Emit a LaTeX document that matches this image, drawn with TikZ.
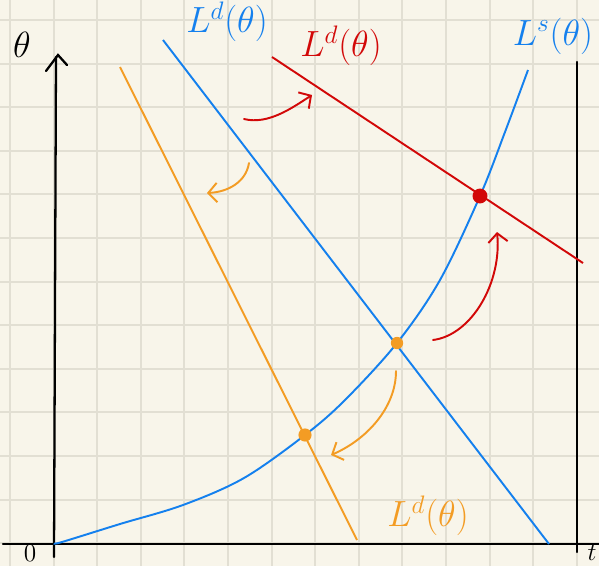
\documentclass[tikz,border=0pt]{standalone}
\usepackage{tikz}
\usetikzlibrary{arrows.meta}

\begin{document}
\begin{tikzpicture}[
    x=0.02cm, y=-0.02cm,
    axis/.style={black, line width=1.3pt, line cap=round},
    grid_line/.style={cgrid, line width=1.1pt},
    demand_line/.style={line width=1.1pt},
    supply_line/.style={cblue, line width=1.1pt},
    shift_arrow/.style={line width=1.1pt, line cap=round, -{Straight Barb[length=5pt, width=11pt]}},
    eq_dot/.style={circle, fill, inner sep=0pt, minimum size=7pt},
    curve_label/.style={font=\fontsize{21}{24}\selectfont, inner sep=0pt},
    axis_label/.style={font=\fontsize{15}{17}\selectfont, inner sep=0pt}
]

  % --- Color Definitions ---
  \definecolor{cpaper}{RGB}{248, 245, 234} % Paper
  \definecolor{cgrid}{RGB}{226, 223, 211}  % Grid
  \definecolor{cblue}{RGB}{20, 128, 238}   % Initial curves
  \definecolor{cred}{RGB}{210, 8, 8}       % Demand up
  \definecolor{corange}{RGB}{243, 156, 36} % Demand down

  % --- Paper and Grid ---
  \useasboundingbox (0,0) rectangle (599,566);
  \fill[cpaper] (0,0) rectangle (599,566);
  \foreach \k in {0,...,13} {
    \draw[grid_line] (10+43.6*\k, 0) -- (10+43.6*\k, 566);
    \draw[grid_line] (0, 20+43.6*\k) -- (599, 20+43.6*\k);
  }

  % --- Axes ---
  \coordinate (origin) at (54,557);
  \coordinate (yaxis_top) at (56,57);
  \coordinate (xaxis_left) at (3,544);
  \coordinate (xaxis_right) at (605,544);
  \coordinate (tbar_top) at (577,62);
  \coordinate (tbar_bot) at (577,552);
  \draw[axis] (origin) -- (yaxis_top);
  \draw[axis] (46,71) -- (58,55) -- (67,65);
  \draw[axis] (xaxis_left) -- (xaxis_right);
  \draw[axis] (tbar_top) -- (tbar_bot);
  \node[axis_label, font=\fontsize{22}{24}\selectfont] (theta_lbl) at (22,45) {$\theta$};
  \node[axis_label] (zero_lbl) at (30,553) {$0$};
  \node[axis_label] (t_lbl) at (592,553) {$t$};

  % --- Initial demand and supply ---
  \coordinate (bd_top) at (163,40);
  \coordinate (bd_bot) at (549,544);
  \draw[demand_line, cblue] (bd_top) -- (bd_bot);
  \draw[supply_line] plot[smooth, tension=0.55] coordinates {
    (55,543) (62,542) (120,524) (183,505) (244,478) (305,435)
    (345,400) (397,343) (440,280) (480,196) (505,132) (528,70)};
  \node[curve_label, cblue] (bd_lbl) at (227,22) {$L^{d}(\theta)$};
  \node[curve_label, cblue] (ls_lbl) at (553,36) {$L^{s}(\theta)$};

  % --- Demand up (red) ---
  \coordinate (rd_top) at (272,57);
  \coordinate (rd_bot) at (583,263);
  \draw[demand_line, cred] (rd_top) -- (rd_bot);
  \node[curve_label, cred] (rd_lbl) at (341,46) {$L^{d}(\theta)$};

  % --- Demand down (orange) ---
  \coordinate (od_top) at (120,67);
  \coordinate (od_bot) at (357,540);
  \draw[demand_line, corange] (od_top) -- (od_bot);
  \node[curve_label, corange] (od_lbl) at (428,516) {$L^{d}(\theta)$};

  % --- Equilibria ---
  \node[eq_dot, corange] (eq_mid) at (397,343) {};
  \node[eq_dot, cred, minimum size=8.5pt] (eq_high) at (480,196) {};
  \node[eq_dot, corange, minimum size=7.5pt] (eq_low) at (305,435) {};

  % --- Shift arrows ---
  \coordinate (ra_from) at (244,119);
  \coordinate (ra_to) at (312,95);
  \draw[shift_arrow, cred] (ra_from) .. controls (268,125) and (292,108) .. (ra_to);
  \coordinate (rb_from) at (433,340);
  \coordinate (rb_to) at (497,232);
  \draw[shift_arrow, cred] (rb_from) .. controls (472,335) and (502,282) .. (rb_to);
  \coordinate (oa_from) at (249,163);
  \coordinate (oa_to) at (207,193);
  \draw[shift_arrow, corange] (oa_from) .. controls (246,182) and (228,192) .. (oa_to);
  \coordinate (ob_from) at (396,371);
  \coordinate (ob_to) at (331,455);
  \draw[shift_arrow, corange] (ob_from) .. controls (396,408) and (366,440) .. (ob_to);

\end{tikzpicture}
\end{document}
